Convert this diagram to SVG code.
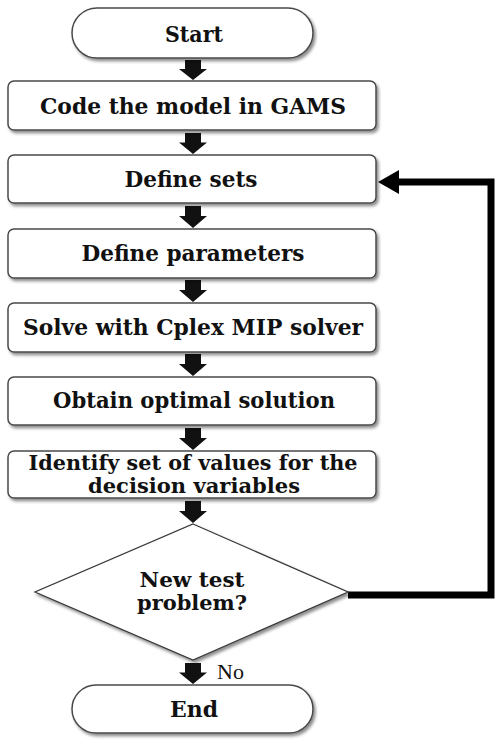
<svg xmlns="http://www.w3.org/2000/svg" width="495" height="740" viewBox="0 0 495 740">
<style>
.box{fill:#fff;stroke:#4a4a4a;stroke-width:1.5;filter:url(#sh)}
.dia{fill:#fff;stroke:#3a3a3a;stroke-width:1.3;filter:url(#sh)}
.t{font-family:"DejaVu Serif","Liberation Serif",serif;font-weight:bold;font-size:23px;fill:#111;text-anchor:middle}
.t2{font-size:21px}
.n{font-family:"Liberation Serif","DejaVu Serif",serif;font-size:22px;fill:#111}
.ba{fill:#111}
.fb{fill:none;stroke:#000;stroke-width:7;stroke-linejoin:miter}
</style>
<defs>
<filter id="sh" x="-10%" y="-20%" width="130%" height="150%">
<feDropShadow dx="2" dy="2.5" stdDeviation="1.5" flood-color="#000" flood-opacity="0.45"/>
</filter>
<path id="ba" d="M-8,0 H8 V9 H14 L0,20 L-14,9 H-8 Z"/>
</defs>

<g id="connectors">
<use href="#ba" class="ba" transform="translate(193,60) scale(1,1)"/>
<use href="#ba" class="ba" transform="translate(193,133) scale(1,1.05)"/>
<use href="#ba" class="ba" transform="translate(193,206) scale(1,1.1)"/>
<use href="#ba" class="ba" transform="translate(193,280) scale(1,1.1)"/>
<use href="#ba" class="ba" transform="translate(193,354) scale(1,1.1)"/>
<use href="#ba" class="ba" transform="translate(193,428) scale(1,1.1)"/>
<use href="#ba" class="ba" transform="translate(193,501) scale(1,1.1)"/>
<use href="#ba" class="ba" transform="translate(193,663) scale(1,1.05)"/>
<polyline class="fb" points="348,595 491,595 491,182 398,182"/>
<path d="M378,182 L399,170 L399,194 Z" fill="#000"/>
<text class="n" x="217" y="679">No</text>
</g>

<g id="start">
<rect class="box" x="72" y="8" width="241" height="50" rx="25"/>
<text class="t" x="194" y="42" textLength="58" lengthAdjust="spacingAndGlyphs">Start</text>
</g>
<g id="code">
<rect class="box" x="8" y="81" width="368" height="49" rx="6"/>
<text class="t" x="193" y="114" textLength="306" lengthAdjust="spacingAndGlyphs">Code the model in GAMS</text>
</g>
<g id="sets">
<rect class="box" x="8" y="155" width="368" height="48" rx="6"/>
<text class="t" x="191" y="187" textLength="133" lengthAdjust="spacingAndGlyphs">Define sets</text>
</g>
<g id="params">
<rect class="box" x="8" y="229" width="368" height="49" rx="6"/>
<text class="t" x="193" y="261" textLength="223" lengthAdjust="spacingAndGlyphs">Define parameters</text>
</g>
<g id="solve">
<rect class="box" x="8" y="303" width="368" height="49" rx="6"/>
<text class="t" x="193" y="335" textLength="340" lengthAdjust="spacingAndGlyphs">Solve with Cplex MIP solver</text>
</g>
<g id="obtain">
<rect class="box" x="8" y="377" width="368" height="48" rx="6"/>
<text class="t" x="194" y="408" textLength="282" lengthAdjust="spacingAndGlyphs">Obtain optimal solution</text>
</g>
<g id="identify">
<rect class="box" x="8" y="451" width="368" height="47" rx="6"/>
<text class="t t2" x="193" y="470" textLength="329" lengthAdjust="spacingAndGlyphs">Identify set of values for the</text>
<text class="t t2" x="194" y="493" textLength="212" lengthAdjust="spacingAndGlyphs">decision variables</text>
</g>
<g id="decision">
<polygon class="dia" points="193,524 348,592 193,660 35,592"/>
<text class="t t2" x="192" y="587" textLength="105" lengthAdjust="spacingAndGlyphs">New test</text>
<text class="t t2" x="192" y="610" textLength="110" lengthAdjust="spacingAndGlyphs">problem?</text>
</g>
<g id="end">
<rect class="box" x="72" y="685" width="241" height="48" rx="24"/>
<text class="t" x="194" y="717" textLength="48" lengthAdjust="spacingAndGlyphs">End</text>
</g>
</svg>
